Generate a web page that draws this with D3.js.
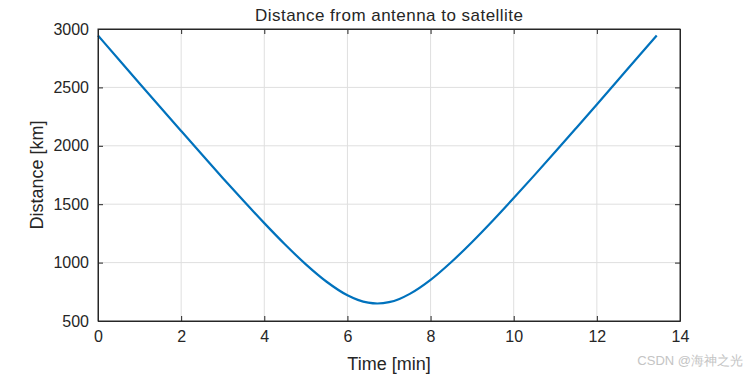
<!DOCTYPE html>
<html>
<head>
<meta charset="utf-8">
<script src="https://cdn.jsdelivr.net/npm/d3@7"></script>
<style>
  body { margin: 0; background: #fff; }
  svg { font-family: Arial, "Liberation Sans", sans-serif; }
  .tick text { fill: #262626; font-size: 16px; }
  .grid line { stroke: #dfdfdf; }
</style>
</head>
<body>
<div id="vis"></div>
<script>
// time in minutes, distance in km
var timeMin = [0, 0.5, 1, 1.5, 2, 2.5, 3, 3.5, 4, 4.5, 5, 5.5, 6, 6.25, 6.5, 6.72,
               7, 7.25, 7.5, 8, 8.5, 9, 9.5, 10, 10.5, 11, 11.5, 12, 12.5, 13, 13.44];
var distKm = [2944, 2739, 2534, 2330, 2127, 1925, 1725, 1529, 1338, 1155, 985, 836, 720, 681, 657, 650,
              661, 689, 732, 852, 1005, 1177, 1361, 1553, 1749, 1949, 2151, 2354, 2559, 2764, 2944];
var xTicks = [0, 2, 4, 6, 8, 10, 12, 14];
var yTicks = [500, 1000, 1500, 2000, 2500, 3000];

var width = 750;
var height = 375;
var margin = { top: 29, right: 70, bottom: 54, left: 98 };
var drawWidth = width - margin.left - margin.right;
var drawHeight = height - margin.top - margin.bottom;
var ink = '#262626';

var svg = d3.select('#vis')
            .append('svg')
            .attr('width', width)
            .attr('height', height);

var g = svg.append('g')
           .attr('transform', 'translate(' + margin.left + ',' + margin.top + ')');

var xScale = d3.scaleLinear().domain([0, 14]).range([0, drawWidth]);
var yScale = d3.scaleLinear().domain([500, 3000]).range([drawHeight, 0]);

// grid
g.append('g').attr('class', 'grid')
  .selectAll('line').data(xTicks.slice(1, -1)).enter().append('line')
  .attr('x1', function(d) { return xScale(d); }).attr('x2', function(d) { return xScale(d); })
  .attr('y1', 0).attr('y2', drawHeight);
g.append('g').attr('class', 'grid')
  .selectAll('line').data(yTicks.slice(1, -1)).enter().append('line')
  .attr('y1', function(d) { return yScale(d); }).attr('y2', function(d) { return yScale(d); })
  .attr('x1', 0).attr('x2', drawWidth);

// line
var line = d3.line()
             .x(function(d, i) { return xScale(timeMin[i]); })
             .y(function(d) { return yScale(d); })
             .curve(d3.curveMonotoneX);

g.append('path')
  .datum(distKm)
  .attr('d', line)
  .attr('fill', 'none')
  .attr('stroke', '#0072BD')
  .attr('stroke-width', 2.2);

// axes (ticks inside, MATLAB box style)
var fmt = d3.format('d');
var xAxis = d3.axisBottom(xScale).tickValues(xTicks).tickFormat(fmt).tickSizeInner(-5).tickSizeOuter(0).tickPadding(10);
var yAxis = d3.axisLeft(yScale).tickValues(yTicks).tickFormat(fmt).tickSizeInner(-5).tickSizeOuter(0).tickPadding(9);
var xTop = d3.axisTop(xScale).tickValues(xTicks).tickSizeInner(-5).tickSizeOuter(0).tickFormat('');
var yRight = d3.axisRight(yScale).tickValues(yTicks).tickSizeInner(-5).tickSizeOuter(0).tickFormat('');

g.append('g').attr('transform', 'translate(0,' + drawHeight + ')').call(xAxis);
g.append('g').call(yAxis);
g.append('g').call(xTop);
g.append('g').attr('transform', 'translate(' + drawWidth + ',0)').call(yRight);

g.selectAll('.domain').attr('stroke', ink);
g.selectAll('.tick line').attr('stroke', ink);

g.append('rect')
  .attr('width', drawWidth).attr('height', drawHeight)
  .attr('fill', 'none').attr('stroke', ink).attr('stroke-width', 1);

// labels
svg.append('text')
   .attr('x', margin.left + drawWidth / 2).attr('y', 21)
   .attr('text-anchor', 'middle').attr('fill', ink).style('font-size', '17px')
   .attr('textLength', 268).attr('lengthAdjust', 'spacing')
   .text('Distance from antenna to satellite');

svg.append('text')
   .attr('x', margin.left + drawWidth / 2).attr('y', 370)
   .attr('text-anchor', 'middle').attr('fill', ink).style('font-size', '18px')
   .text('Time [min]');

svg.append('text')
   .attr('transform', 'translate(43,' + (margin.top + drawHeight / 2) + ') rotate(-90)')
   .attr('text-anchor', 'middle').attr('fill', ink).style('font-size', '18px')
   .text('Distance [km]');

svg.append('text')
   .attr('x', 743).attr('y', 365)
   .attr('text-anchor', 'end').attr('fill', '#c4c4c4').style('font-size', '13px')
   .text('CSDN @海神之光');
</script>
</body>
</html>
